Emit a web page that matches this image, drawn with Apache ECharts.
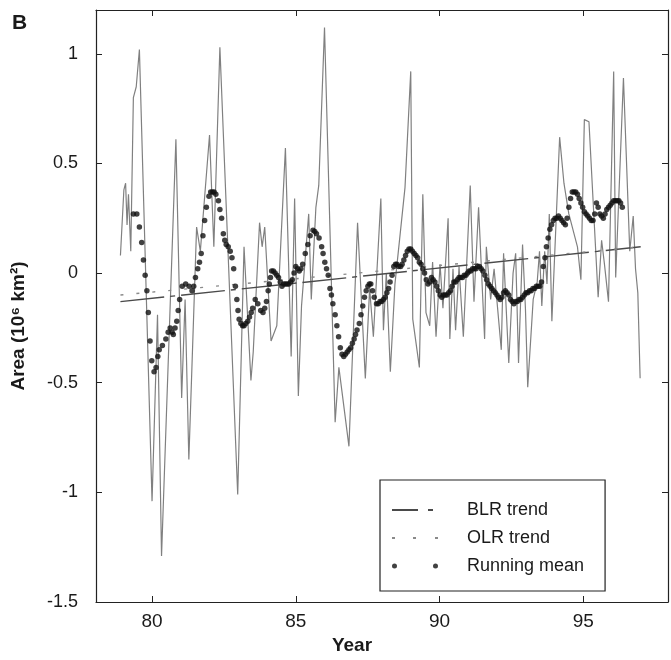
<!DOCTYPE html>
<html>
<head>
<meta charset="utf-8">
<script src="https://cdn.jsdelivr.net/npm/echarts@6/dist/echarts.min.js"></script>
<style>
html, body { margin: 0; padding: 0; background: #fff; }
#main { width: 671px; height: 660px; }
</style>
</head>
<body>
<div id="main"></div>
<script>
// monthly anomaly curve (turning points)
var rawYears = [78.90, 79.02, 79.08, 79.13, 79.18, 79.26, 79.35, 79.45, 79.56, 80.00,
    80.19, 80.33, 80.83, 81.03, 81.15, 81.28, 81.55, 81.68, 82.00, 82.15,
    82.36, 82.98, 83.20, 83.44, 83.52, 83.74, 83.83, 83.92, 84.14, 84.34,
    84.64, 84.84, 84.96, 85.09, 85.20, 85.45, 85.54, 85.70, 85.80, 86.00,
    86.37, 86.50, 86.85, 87.15, 87.42, 87.57, 87.70, 87.96, 88.05, 88.15,
    88.29, 88.45, 88.80, 89.00, 89.07, 89.30, 89.42, 89.53, 89.66, 89.76,
    89.88, 90.02, 90.12, 90.30, 90.36, 90.47, 90.56, 90.68, 90.83, 91.07,
    91.20, 91.36, 91.57, 91.63, 91.78, 91.90, 92.15, 92.23, 92.41, 92.56,
    92.65, 92.75, 92.89, 92.99, 93.07, 93.26, 93.40, 93.48, 93.56, 93.66,
    93.74, 93.82, 93.91, 94.18, 94.33, 94.50, 94.80, 94.92, 95.04, 95.20,
    95.52, 95.64, 95.74, 95.88, 96.06, 96.13, 96.40, 96.62, 96.74, 96.82,
    96.90, 96.98];
var rawArea = [0.08, 0.38, 0.41, 0.22, 0.36, 0.10, 0.80, 0.85, 1.02, -1.04,
    -0.19, -1.29, 0.61, -0.57, -0.12, -0.85, 0.21, 0.10, 0.63, 0.12,
    1.03, -1.01, 0.12, -0.49, -0.36, 0.23, 0.12, 0.21, -0.31, -0.24,
    0.57, -0.38, 0.34, -0.56, -0.15, 0.27, -0.12, 0.30, 0.40, 1.12,
    -0.68, -0.43, -0.79, 0.23, -0.48, -0.07, -0.29, 0.34, -0.26, 0.00,
    -0.45, -0.05, 0.39, 0.92, -0.21, -0.43, 0.36, -0.18, -0.24, 0.05,
    -0.29, 0.04, -0.16, 0.25, -0.30, 0.02, -0.26, 0.03, -0.29, 0.40,
    -0.13, 0.30, -0.30, 0.12, -0.12, 0.02, -0.35, 0.09, -0.41, 0.00,
    0.09, -0.41, 0.13, -0.16, -0.52, -0.12, -0.04, 0.10, -0.15, 0.10,
    -0.05, 0.27, -0.22, 0.62, 0.41, 0.27, 0.12, -0.03, 0.70, 0.69,
    -0.11, 0.15, 0.04, -0.13, 0.92, -0.02, 0.89, 0.10, 0.26, 0.02,
    -0.09, -0.48];

// running mean dots
var meanYears = [79.35, 79.47, 79.56, 79.64, 79.70, 79.76, 79.82, 79.87, 79.93, 79.99,
    80.07, 80.14, 80.20, 80.25, 80.36, 80.48, 80.56, 80.63, 80.70, 80.74,
    80.80, 80.86, 80.91, 80.96, 81.05, 81.17, 81.29, 81.39, 81.45, 81.51,
    81.59, 81.65, 81.71, 81.77, 81.83, 81.89, 81.98, 82.04, 82.10, 82.16,
    82.22, 82.31, 82.36, 82.42, 82.48, 82.53, 82.58, 82.65, 82.72, 82.78,
    82.84, 82.90, 82.95, 82.99, 83.03, 83.09, 83.15, 83.20, 83.26, 83.33,
    83.39, 83.45, 83.50, 83.59, 83.68, 83.78, 83.86, 83.92, 83.98, 84.04,
    84.08, 84.12, 84.16, 84.22, 84.28, 84.34, 84.40, 84.46, 84.52, 84.58,
    84.64, 84.70, 84.76, 84.82, 84.88, 84.94, 85.00, 85.06, 85.12, 85.18,
    85.24, 85.33, 85.42, 85.50, 85.60, 85.66, 85.72, 85.81, 85.90, 85.95,
    86.01, 86.07, 86.13, 86.19, 86.24, 86.29, 86.37, 86.43, 86.49, 86.55,
    86.61, 86.67, 86.73, 86.79, 86.85, 86.91, 86.97, 87.03, 87.08, 87.13,
    87.21, 87.27, 87.33, 87.39, 87.45, 87.51, 87.56, 87.61, 87.67, 87.73,
    87.81, 87.87, 87.93, 87.99, 88.05, 88.11, 88.17, 88.23, 88.28, 88.35,
    88.41, 88.47, 88.52, 88.58, 88.65, 88.70, 88.76, 88.82, 88.88, 88.94,
    89.00, 89.06, 89.12, 89.18, 89.24, 89.30, 89.36, 89.42, 89.48, 89.54,
    89.60, 89.66, 89.72, 89.78, 89.84, 89.90, 89.96, 90.02, 90.08, 90.14,
    90.20, 90.26, 90.32, 90.38, 90.44, 90.50, 90.56, 90.62, 90.68, 90.74,
    90.80, 90.86, 90.92, 90.98, 91.03, 91.09, 91.15, 91.21, 91.27, 91.33,
    91.39, 91.45, 91.51, 91.58, 91.64, 91.70, 91.76, 91.82, 91.88, 91.94,
    92.00, 92.05, 92.11, 92.17, 92.23, 92.29, 92.35, 92.41, 92.47, 92.53,
    92.59, 92.65, 92.71, 92.77, 92.83, 92.89, 92.95, 93.01, 93.07, 93.13,
    93.19, 93.25, 93.31, 93.37, 93.43, 93.49, 93.55, 93.61, 93.67, 93.72,
    93.78, 93.84, 93.90, 93.96, 94.02, 94.08, 94.14, 94.20, 94.26, 94.32,
    94.38, 94.44, 94.50, 94.56, 94.62, 94.68, 94.74, 94.80, 94.86, 94.92,
    94.98, 95.04, 95.10, 95.16, 95.22, 95.28, 95.34, 95.40, 95.46, 95.52,
    95.58, 95.64, 95.70, 95.76, 95.82, 95.88, 95.94, 96.00, 96.06, 96.12,
    96.18, 96.24, 96.30, 96.36];
var meanArea = [0.27, 0.27, 0.21, 0.14, 0.06, -0.01, -0.08, -0.18, -0.31, -0.40,
    -0.45, -0.43, -0.38, -0.35, -0.33, -0.30, -0.27, -0.25, -0.27, -0.28,
    -0.25, -0.22, -0.17, -0.12, -0.06, -0.05, -0.06, -0.08, -0.06, -0.02,
    0.02, 0.05, 0.09, 0.17, 0.24, 0.30, 0.35, 0.37, 0.37, 0.37,
    0.36, 0.33, 0.29, 0.25, 0.18, 0.15, 0.13, 0.12, 0.10, 0.07,
    0.02, -0.06, -0.12, -0.17, -0.21, -0.23, -0.24, -0.24, -0.23, -0.22,
    -0.20, -0.18, -0.16, -0.12, -0.14, -0.17, -0.18, -0.16, -0.13, -0.08,
    -0.05, -0.02, 0.01, 0.01, 0.00, -0.01, -0.02, -0.04, -0.06, -0.05,
    -0.05, -0.05, -0.05, -0.04, -0.03, 0.00, 0.03, 0.02, 0.01, 0.02,
    0.04, 0.09, 0.13, 0.17, 0.195, 0.19, 0.18, 0.16, 0.12, 0.09,
    0.05, 0.02, -0.01, -0.07, -0.10, -0.14, -0.19, -0.24, -0.29, -0.34,
    -0.37, -0.38, -0.37, -0.36, -0.35, -0.34, -0.32, -0.30, -0.28, -0.26,
    -0.23, -0.19, -0.15, -0.11, -0.08, -0.06, -0.05, -0.05, -0.08, -0.11,
    -0.14, -0.14, -0.13, -0.13, -0.12, -0.11, -0.09, -0.07, -0.04, -0.01,
    0.03, 0.04, 0.04, 0.03, 0.03, 0.04, 0.06, 0.08, 0.10, 0.11,
    0.11, 0.10, 0.09, 0.08, 0.07, 0.05, 0.04, 0.02, 0.00, -0.03,
    -0.05, -0.04, -0.02, -0.03, -0.04, -0.06, -0.08, -0.10, -0.11, -0.10,
    -0.10, -0.10, -0.09, -0.08, -0.06, -0.04, -0.04, -0.03, -0.02, -0.02,
    -0.02, -0.01, -0.01, 0.00, 0.01, 0.01, 0.02, 0.02, 0.02, 0.03,
    0.03, 0.02, 0.01, -0.01, -0.03, -0.05, -0.06, -0.07, -0.08, -0.09,
    -0.10, -0.11, -0.12, -0.11, -0.09, -0.08, -0.09, -0.10, -0.12, -0.13,
    -0.14, -0.13, -0.13, -0.12, -0.12, -0.11, -0.10, -0.09, -0.09, -0.08,
    -0.08, -0.07, -0.07, -0.06, -0.06, -0.06, -0.04, 0.03, 0.07, 0.12,
    0.16, 0.20, 0.22, 0.24, 0.25, 0.25, 0.26, 0.25, 0.24, 0.23,
    0.22, 0.25, 0.30, 0.34, 0.37, 0.37, 0.37, 0.36, 0.34, 0.32,
    0.30, 0.28, 0.27, 0.26, 0.25, 0.24, 0.24, 0.27, 0.32, 0.30,
    0.27, 0.26, 0.25, 0.27, 0.29, 0.30, 0.31, 0.32, 0.33, 0.33,
    0.33, 0.33, 0.32, 0.30];

// trend line end points
var blrYears = [78.9, 97.0];
var blrArea = [-0.13, 0.12];
var olrYears = [78.9, 97.0];
var olrArea = [-0.10, 0.12];

var xTicks = [80, 85, 90, 95];

function pairs(xs, ys) {
    var out = [];
    for (var i = 0; i < xs.length; i++) {
        out.push([xs[i], ys[i]]);
    }
    return out;
}

var font = 'Liberation Sans, Arial, Helvetica, sans-serif';
var ink = '#1a1a1a';

// legend icons (46 x 5 boxes)
var blrIcon = 'path://M0,1.5H26V3.5H0Z M36,1.5H41V3.5H36Z M46,0L46,0 M46,5L46,5';
var olrIcon = 'path://M0,1.5H3V3.5H0Z M21,1.5H24V3.5H21Z M43,1.5H46V3.5H43Z M0,0L0,0 M0,5L0,5';
var dotIcon = 'path://M0,2.5A2.5,2.5 0 1 1 5,2.5A2.5,2.5 0 1 1 0,2.5Z M41,2.5A2.5,2.5 0 1 1 46,2.5A2.5,2.5 0 1 1 41,2.5Z';

var myChart = echarts.init(document.getElementById('main'));

var option = {
    animation: false,
    backgroundColor: '#fff',
    textStyle: { fontFamily: font },
    title: {
        text: 'B',
        left: 7,
        top: 8,
        textStyle: { fontSize: 21, fontWeight: 'bold', color: ink, fontFamily: font }
    },
    grid: { left: 96, top: 10, width: 572, height: 594 },
    legend: {
        orient: 'vertical',
        left: 380,
        top: 480,
        padding: [21, 21, 16, 12],
        itemWidth: 46,
        itemHeight: 5,
        itemGap: 10,
        borderColor: '#222',
        borderWidth: 1.2,
        backgroundColor: '#fff',
        textStyle: { fontSize: 18, color: ink, fontFamily: font, padding: [0, 0, 0, 24] },
        itemStyle: { borderWidth: 0 },
        data: [
            { name: 'BLR trend', icon: blrIcon },
            { name: 'OLR trend', icon: olrIcon },
            { name: 'Running mean', icon: dotIcon }
        ]
    },
    xAxis: [{
        type: 'value',
        min: 78.05,
        max: 97.95,
        name: 'Year',
        nameLocation: 'middle',
        nameGap: 34,
        nameTextStyle: { fontSize: 19, fontWeight: 'bold', color: ink, padding: [0, 60, 0, 0] },
        axisLine: { show: true, onZero: false, lineStyle: { color: '#222', width: 1.2 } },
        axisTick: { show: true, inside: true, length: 6, customValues: xTicks, lineStyle: { color: '#222' } },
        axisLabel: { customValues: xTicks, margin: 10, fontSize: 19, color: ink },
        splitLine: { show: false }
    }, {
        type: 'value',
        position: 'top',
        min: 78.05,
        max: 97.95,
        axisLine: { show: true, onZero: false, lineStyle: { color: '#222', width: 1.2 } },
        axisTick: { show: true, inside: true, length: 6, customValues: xTicks, lineStyle: { color: '#222' } },
        axisLabel: { show: false },
        splitLine: { show: false }
    }],
    yAxis: [{
        type: 'value',
        min: -1.5,
        max: 1.2,
        interval: 0.5,
        name: 'Area (10\u2076 km\u00b2)',
        nameLocation: 'middle',
        nameGap: 68,
        nameRotate: 90,
        nameTextStyle: { fontSize: 19, fontWeight: 'bold', color: ink, padding: [0, 40, 0, 0] },
        axisLine: { show: true, onZero: false, lineStyle: { color: '#222', width: 1.2 } },
        axisTick: { show: true, inside: true, length: 6, lineStyle: { color: '#222' } },
        axisLabel: { showMaxLabel: false, margin: 18, fontSize: 18, color: ink },
        splitLine: { show: false }
    }, {
        type: 'value',
        position: 'right',
        min: -1.5,
        max: 1.2,
        interval: 0.5,
        axisLine: { show: true, onZero: false, lineStyle: { color: '#222', width: 1.2 } },
        axisTick: { show: true, inside: true, length: 6, lineStyle: { color: '#222' } },
        axisLabel: { show: false },
        splitLine: { show: false }
    }],
    series: [{
        name: 'Area',
        type: 'line',
        data: pairs(rawYears, rawArea),
        symbol: 'none',
        itemStyle: { color: '#808080' },
        lineStyle: { color: '#808080', width: 1.2 },
        z: 2
    }, {
        name: 'BLR trend',
        type: 'line',
        data: pairs(blrYears, blrArea),
        symbol: 'none',
        itemStyle: { color: '#4a4a4a' },
        lineStyle: { color: '#4a4a4a', width: 1.4, type: [44, 6, 5, 6] },
        z: 3
    }, {
        name: 'OLR trend',
        type: 'line',
        data: pairs(olrYears, olrArea),
        symbol: 'none',
        itemStyle: { color: '#8a8a8a' },
        lineStyle: { color: '#8a8a8a', width: 1.4, type: [3, 13] },
        z: 3
    }, {
        name: 'Running mean',
        type: 'scatter',
        data: pairs(meanYears, meanArea),
        symbol: 'circle',
        symbolSize: 5.5,
        itemStyle: { color: '#111' },
        z: 5
    }]
};

myChart.setOption(option);
</script>
</body>
</html>
